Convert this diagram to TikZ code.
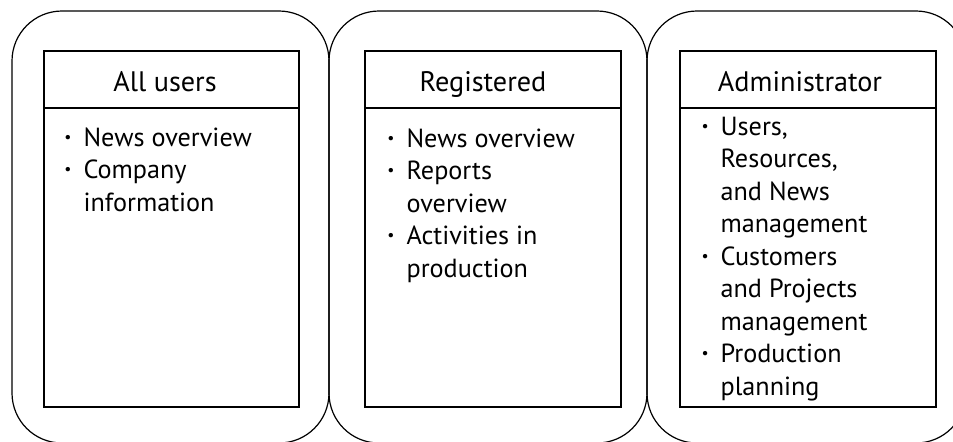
\documentclass[tikz,border=0pt]{standalone}
\usepackage{fontspec}
\setmainfont{PT Sans}
\newcommand{\itm}{\llap{\raisebox{1.8pt}{\scalebox{0.6}{\textbullet}}\hspace{6pt}}}
\tikzset{
  head/.style={anchor=base,inner sep=0pt,font=\fontsize{14.1}{16}\selectfont},
  items/.style={anchor=base west,inner sep=0pt,align=left,font=\fontsize{13.1}{16.25}\selectfont}
}
\begin{document}
\begin{tikzpicture}[x=0.5pt,y=-0.5pt,line width=0.6pt]
\useasboundingbox (0,0) rectangle (953,441);

\draw [rounded corners=25pt] (12,11) rectangle (329,443);
\draw [rounded corners=25pt] (329,11) rectangle (647,443);
\draw [rounded corners=25pt] (647,11) rectangle (966,443);

\draw [] (44,51) rectangle (299,407);
\draw [] (44,108) -- (299,108);
\draw [] (365,51) rectangle (621,407);
\draw [] (365,108) -- (621,108);
\draw [] (680,51) rectangle (936,407);
\draw [] (680,108) -- (936,108);

\node (h1) at (165,91) [head] {All users};
\node (h2) at (483,91) [head] {Registered};
\node (h3) at (800,91) [head] {Administrator};

% anchored at the baseline of the last line
\node (l1) at (83,211) [items] {\itm News overview\\ \itm Company\\ information};
\node (l2) at (406,277) [items] {\itm News overview\\ \itm Reports\\ overview\\ \itm Activities in\\ production};
\node (l3) at (720,395) [items] {\itm Users,\\ Resources,\\ and News\\ management\\ \itm Customers\\ and Projects\\ management\\ \itm Production\\ planning};

\end{tikzpicture}
\end{document}
